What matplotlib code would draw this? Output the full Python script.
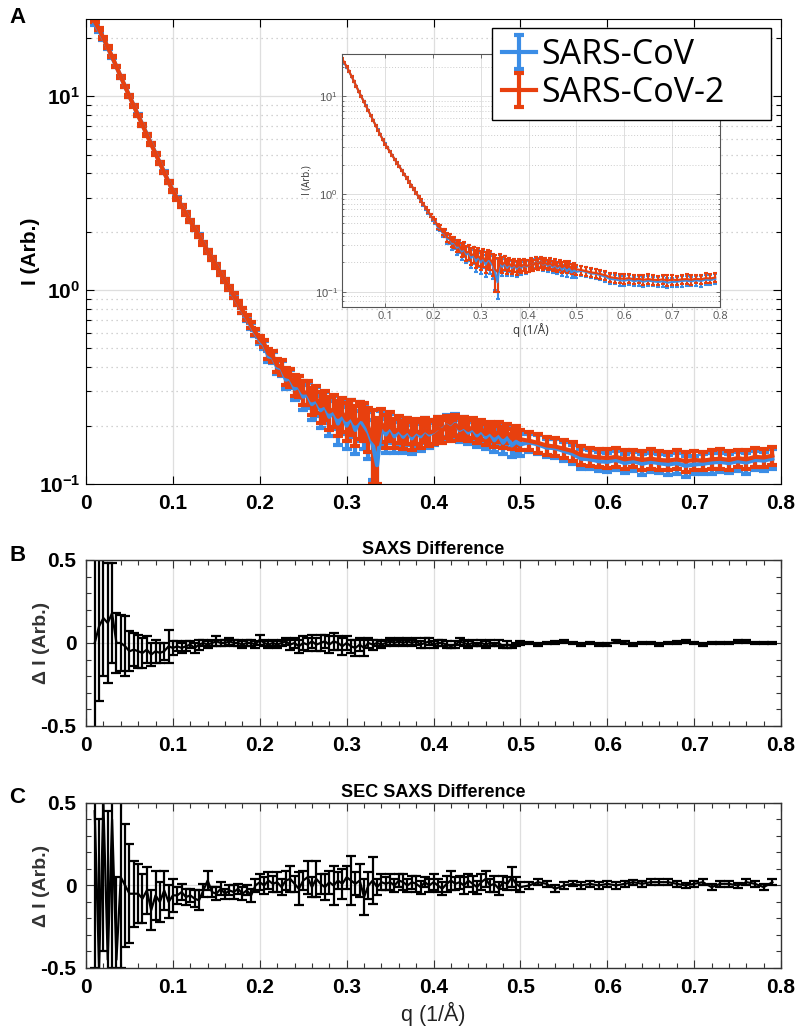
import numpy as np
import matplotlib
matplotlib.use('Agg')
import matplotlib.pyplot as plt
from matplotlib.ticker import FixedLocator, MultipleLocator, LogLocator, NullFormatter

plt.rcParams['font.family'] = ['Liberation Sans', 'DejaVu Sans']
plt.rcParams['mathtext.fontset'] = 'custom'
plt.rcParams['mathtext.rm'] = 'Liberation Sans'
plt.rcParams['mathtext.bf'] = 'Liberation Sans:bold'

# scattering vector q (1/A)
q = [0.010, 0.015, 0.020, 0.025, 0.030, 0.035, 0.040, 0.045, 0.050, 0.055,
     0.060, 0.065, 0.070, 0.075, 0.080, 0.085, 0.090, 0.095, 0.100, 0.105,
     0.110, 0.115, 0.120, 0.125, 0.130, 0.135, 0.140, 0.145, 0.150, 0.155,
     0.160, 0.165, 0.170, 0.175, 0.180, 0.185, 0.190, 0.195, 0.200, 0.205,
     0.210, 0.215, 0.220, 0.225, 0.230, 0.235, 0.240, 0.245, 0.250, 0.255,
     0.260, 0.265, 0.270, 0.275, 0.280, 0.285, 0.290, 0.295, 0.300, 0.305,
     0.310, 0.315, 0.320, 0.325, 0.330, 0.335, 0.340, 0.345, 0.350, 0.355,
     0.360, 0.365, 0.370, 0.375, 0.380, 0.385, 0.390, 0.395, 0.400, 0.405,
     0.410, 0.415, 0.420, 0.425, 0.430, 0.435, 0.440, 0.445, 0.450, 0.455,
     0.460, 0.465, 0.470, 0.475, 0.480, 0.485, 0.490, 0.495, 0.500,
     0.51, 0.52, 0.53, 0.54, 0.55, 0.56, 0.57, 0.58, 0.59, 0.60,
     0.61, 0.62, 0.63, 0.64, 0.65, 0.66, 0.67, 0.68, 0.69, 0.70,
     0.71, 0.72, 0.73, 0.74, 0.75, 0.76, 0.77, 0.78, 0.79]

# SARS-CoV intensity
i_cov = [23.6, 21.8, 19.8, 17.8, 15.9, 14.2, 12.6, 11.2, 10.0, 8.95,
         7.97, 7.12, 6.35, 5.66, 5.06, 4.53, 4.05, 3.62, 3.25, 2.97,
         2.72, 2.49, 2.27, 2.08, 1.91, 1.75, 1.59, 1.46, 1.34, 1.22,
         1.12, 1.02, 0.935, 0.855, 0.783, 0.715, 0.652, 0.598, 0.550, 0.520,
         0.455, 0.450, 0.400, 0.395, 0.345, 0.350, 0.310, 0.318, 0.282, 0.290,
         0.258, 0.270, 0.240, 0.252, 0.222, 0.238, 0.205, 0.228, 0.200, 0.222,
         0.190, 0.215, 0.200, 0.185, 0.160, 0.125, 0.198, 0.180, 0.196, 0.176,
         0.190, 0.175, 0.188, 0.172, 0.186, 0.176, 0.190, 0.180, 0.186, 0.194,
         0.190, 0.200, 0.194, 0.204, 0.190, 0.196, 0.184, 0.193, 0.178, 0.188,
         0.174, 0.183, 0.168, 0.180, 0.163, 0.175, 0.158, 0.165, 0.160,
         0.164, 0.160, 0.154, 0.153, 0.148, 0.143, 0.135, 0.134, 0.131, 0.130,
         0.133, 0.128, 0.131, 0.127, 0.130, 0.128, 0.126, 0.128, 0.124, 0.126,
         0.127, 0.129, 0.130, 0.128, 0.131, 0.129, 0.133, 0.132, 0.135]
e_cov = [0.30, 0.26, 0.22, 0.19, 0.16, 0.14, 0.12, 0.11, 0.10, 0.09,
         0.08, 0.07, 0.065, 0.06, 0.055, 0.05, 0.045, 0.042, 0.040, 0.038,
         0.036, 0.034, 0.033, 0.032, 0.031, 0.030, 0.029, 0.028, 0.027, 0.026,
         0.025, 0.024, 0.023, 0.022, 0.022, 0.022, 0.021, 0.021, 0.022, 0.025,
         0.029, 0.031, 0.033, 0.035, 0.037, 0.039, 0.040, 0.041, 0.042, 0.043,
         0.044, 0.045, 0.045, 0.046, 0.046, 0.047, 0.047, 0.047, 0.048, 0.048,
         0.048, 0.049, 0.049, 0.050, 0.055, 0.040, 0.040, 0.036, 0.034, 0.032,
         0.031, 0.030, 0.030, 0.029, 0.029, 0.028, 0.028, 0.027, 0.027, 0.027,
         0.026, 0.026, 0.026, 0.025, 0.025, 0.025, 0.024, 0.024, 0.023, 0.023,
         0.023, 0.022, 0.022, 0.022, 0.021, 0.021, 0.021, 0.020, 0.020,
         0.018, 0.018, 0.017, 0.017, 0.016, 0.016, 0.016, 0.015, 0.015, 0.015,
         0.015, 0.014, 0.015, 0.016, 0.015, 0.014, 0.015, 0.016, 0.015, 0.014,
         0.015, 0.016, 0.015, 0.014, 0.015, 0.016, 0.015, 0.015, 0.016]

# SARS-CoV-2 intensity
i_cov2 = [24.3, 22.1, 20.0, 17.9, 16.0, 14.2, 12.6, 11.2, 10.0, 8.91,
          7.94, 7.10, 6.32, 5.65, 5.05, 4.51, 4.04, 3.61, 3.24, 2.96,
          2.71, 2.48, 2.27, 2.08, 1.90, 1.74, 1.59, 1.46, 1.33, 1.22,
          1.12, 1.02, 0.938, 0.859, 0.787, 0.721, 0.661, 0.607, 0.560, 0.530,
          0.470, 0.455, 0.410, 0.400, 0.360, 0.355, 0.325, 0.322, 0.296, 0.297,
          0.270, 0.276, 0.252, 0.258, 0.236, 0.243, 0.222, 0.232, 0.214, 0.225,
          0.205, 0.218, 0.214, 0.196, 0.170, 0.160, 0.205, 0.190, 0.200, 0.185,
          0.193, 0.182, 0.190, 0.179, 0.188, 0.182, 0.191, 0.184, 0.187, 0.195,
          0.188, 0.199, 0.192, 0.202, 0.193, 0.198, 0.190, 0.196, 0.185, 0.192,
          0.181, 0.188, 0.178, 0.186, 0.175, 0.184, 0.172, 0.178, 0.170,
          0.167, 0.163, 0.158, 0.156, 0.152, 0.148, 0.141, 0.139, 0.137, 0.136,
          0.138, 0.134, 0.136, 0.133, 0.135, 0.133, 0.132, 0.134, 0.131, 0.133,
          0.132, 0.134, 0.135, 0.133, 0.136, 0.134, 0.138, 0.137, 0.140]
e_cov2 = [0.30, 0.26, 0.22, 0.19, 0.16, 0.14, 0.12, 0.11, 0.10, 0.09,
          0.08, 0.07, 0.065, 0.06, 0.055, 0.05, 0.045, 0.042, 0.040, 0.038,
          0.036, 0.034, 0.033, 0.032, 0.031, 0.030, 0.029, 0.028, 0.027, 0.026,
          0.025, 0.024, 0.023, 0.022, 0.021, 0.021, 0.020, 0.020, 0.021, 0.024,
          0.028, 0.030, 0.032, 0.034, 0.036, 0.038, 0.040, 0.040, 0.042, 0.042,
          0.044, 0.044, 0.045, 0.045, 0.046, 0.046, 0.046, 0.047, 0.047, 0.047,
          0.048, 0.048, 0.048, 0.050, 0.070, 0.060, 0.040, 0.036, 0.034, 0.032,
          0.030, 0.030, 0.029, 0.029, 0.028, 0.028, 0.027, 0.027, 0.027, 0.026,
          0.026, 0.026, 0.025, 0.025, 0.025, 0.024, 0.024, 0.024, 0.023, 0.023,
          0.023, 0.022, 0.022, 0.022, 0.021, 0.021, 0.021, 0.020, 0.020,
          0.018, 0.018, 0.017, 0.017, 0.016, 0.016, 0.016, 0.015, 0.015, 0.015,
          0.015, 0.015, 0.014, 0.015, 0.016, 0.015, 0.014, 0.015, 0.016, 0.015,
          0.014, 0.015, 0.016, 0.015, 0.014, 0.015, 0.016, 0.015, 0.015]

# SAXS difference
d_saxs = [0.00, 0.10, 0.15, 0.12, 0.18, 0.00, 0.00, -0.02, -0.05, -0.04,
          -0.05, -0.06, -0.04, -0.07, -0.05, -0.06, -0.05, -0.02, -0.03, -0.02,
          -0.03, -0.02, -0.01, -0.03, -0.01, 0.00, -0.01, 0.00, 0.01, 0.00,
          0.00, 0.01, 0.00, 0.00, -0.01, 0.00, 0.00, -0.01, 0.02, 0.00,
          -0.01, 0.00, -0.01, 0.00, 0.01, -0.01, 0.00, -0.02, 0.00, -0.01,
          0.01, -0.01, 0.00, 0.01, -0.01, 0.01, 0.00, -0.02, 0.00, -0.02,
          -0.03, -0.01, -0.03, 0.00, -0.01, 0.00, -0.01, 0.00, 0.01, 0.00,
          0.01, 0.00, 0.01, 0.00, 0.01, -0.01, 0.00, 0.01, -0.01, 0.00,
          0.00, -0.01, -0.02, -0.01, 0.01, 0.00, -0.01, 0.00, -0.01, 0.00,
          -0.01, 0.00, -0.01, 0.00, -0.02, -0.01, -0.02, -0.01, 0.00,
          0.00, -0.01, 0.00, 0.00, 0.01, 0.00, -0.01, 0.00, -0.01, -0.01,
          0.01, 0.00, -0.01, 0.00, 0.00, -0.01, 0.00, 0.00, 0.01, 0.00,
          -0.01, 0.00, 0.00, 0.00, 0.01, 0.01, 0.00, 0.00, 0.00]
e_saxs = [0.60, 0.45, 0.35, 0.36, 0.30, 0.18, 0.17, 0.18, 0.12, 0.10,
          0.10, 0.09, 0.08, 0.07, 0.07, 0.06, 0.05, 0.10, 0.04, 0.03,
          0.03, 0.03, 0.02, 0.03, 0.03, 0.02, 0.02, 0.02, 0.03, 0.02,
          0.02, 0.02, 0.02, 0.02, 0.02, 0.02, 0.02, 0.02, 0.03, 0.02,
          0.02, 0.02, 0.02, 0.02, 0.02, 0.03, 0.03, 0.04, 0.04, 0.04,
          0.04, 0.04, 0.05, 0.04, 0.05, 0.05, 0.04, 0.05, 0.04, 0.04,
          0.05, 0.04, 0.05, 0.03, 0.03, 0.02, 0.02, 0.02, 0.02, 0.02,
          0.02, 0.02, 0.02, 0.02, 0.02, 0.02, 0.03, 0.02, 0.02, 0.02,
          0.02, 0.02, 0.01, 0.02, 0.02, 0.02, 0.02, 0.02, 0.01, 0.02,
          0.02, 0.02, 0.01, 0.02, 0.01, 0.02, 0.01, 0.01, 0.01,
          0.008, 0.007, 0.008, 0.009, 0.008, 0.007, 0.008, 0.008, 0.007, 0.008,
          0.008, 0.009, 0.007, 0.008, 0.008, 0.007, 0.008, 0.009, 0.008, 0.007,
          0.008, 0.007, 0.008, 0.008, 0.009, 0.008, 0.007, 0.008, 0.008]

# SEC SAXS difference
d_sec = [0.45, -0.50, 0.50, -0.45, 0.40, -0.45, 0.05, 0.00, -0.05, -0.05,
         -0.05, -0.08, -0.03, -0.15, -0.06, -0.10, -0.03, -0.10, -0.06, -0.06,
         -0.04, -0.07, -0.06, -0.08, -0.09, -0.03, 0.03, -0.04, -0.05, -0.02,
         -0.05, -0.03, -0.04, -0.02, -0.05, -0.03, -0.06, 0.00, 0.02, 0.00,
         0.03, 0.01, 0.02, -0.01, 0.03, 0.04, 0.01, -0.02, 0.03, 0.05,
         -0.01, 0.04, 0.01, -0.01, 0.02, 0.00, 0.03, 0.01, 0.05, 0.03,
         0.01, 0.03, -0.07, 0.00, 0.03, -0.01, 0.02, 0.01, 0.02, 0.00,
         0.03, 0.02, 0.00, 0.02, 0.01, -0.01, 0.02, 0.00, 0.02, 0.00,
         -0.02, 0.01, 0.03, 0.01, 0.02, 0.00, 0.03, 0.01, -0.01, 0.02,
         0.04, 0.00, 0.01, -0.02, 0.02, 0.01, 0.05, 0.01, -0.01,
         0.00, 0.02, 0.01, -0.02, 0.00, 0.01, 0.00, 0.01, 0.00, 0.01,
         0.00, 0.01, 0.02, 0.01, 0.02, 0.02, 0.02, 0.01, 0.00, 0.01,
         0.02, -0.01, 0.01, 0.01, 0.00, 0.02, 0.01, -0.01, 0.02]
e_sec = [0.95, 0.90, 0.90, 0.90, 0.90, 0.50, 0.55, 0.37, 0.30, 0.20,
         0.18, 0.15, 0.14, 0.12, 0.15, 0.12, 0.12, 0.10, 0.10, 0.05,
         0.05, 0.05, 0.04, 0.05, 0.06, 0.04, 0.06, 0.03, 0.04, 0.04,
         0.03, 0.03, 0.04, 0.03, 0.04, 0.03, 0.04, 0.04, 0.05, 0.05,
         0.05, 0.05, 0.06, 0.05, 0.06, 0.08, 0.05, 0.10, 0.06, 0.10,
         0.06, 0.11, 0.06, 0.08, 0.07, 0.12, 0.05, 0.09, 0.07, 0.15,
         0.07, 0.10, 0.11, 0.08, 0.14, 0.05, 0.05, 0.04, 0.05, 0.04,
         0.04, 0.05, 0.04, 0.04, 0.05, 0.04, 0.03, 0.04, 0.05, 0.04,
         0.04, 0.05, 0.06, 0.04, 0.04, 0.05, 0.04, 0.05, 0.04, 0.05,
         0.05, 0.04, 0.05, 0.04, 0.04, 0.04, 0.06, 0.04, 0.03,
         0.02, 0.02, 0.02, 0.02, 0.02, 0.015, 0.02, 0.02, 0.02, 0.02,
         0.02, 0.02, 0.015, 0.02, 0.02, 0.02, 0.02, 0.02, 0.015, 0.02,
         0.02, 0.02, 0.02, 0.02, 0.015, 0.02, 0.02, 0.02, 0.02]

q_ticks = [0, 0.1, 0.2, 0.3, 0.4, 0.5, 0.6, 0.7, 0.8]
q_labels = ['0', '0.1', '0.2', '0.3', '0.4', '0.5', '0.6', '0.7', '0.8']

BLUE = '#3b8de6'
RED = '#e8400e'
GRIDC = '#dedede'

fig = plt.figure(figsize=(7.98, 10.28), dpi=100)

# ---------------- panel A ----------------
axA = fig.add_axes([0.1078, 0.5292, 0.871, 0.4523])
hb = axA.errorbar(q, i_cov, yerr=e_cov, color=BLUE, lw=3, elinewidth=3,
                  capsize=3.5, capthick=3, label='SARS-CoV')
hr = axA.errorbar(q, i_cov2, yerr=e_cov2, color=RED, lw=3, elinewidth=3,
                  capsize=3.5, capthick=3, label='SARS-CoV-2')
axA.set_yscale('log')
axA.set_xlim(0, 0.8)
axA.set_ylim(0.1, 25)
axA.set_xticks(q_ticks)
axA.set_xticklabels(q_labels, fontweight='bold')
axA.yaxis.set_major_locator(FixedLocator([0.1, 1, 10]))
axA.set_yticklabels([r'$\mathbf{10^{-1}}$', r'$\mathbf{10^{0}}$', r'$\mathbf{10^{1}}$'])
axA.yaxis.set_minor_locator(LogLocator(base=10, subs=np.arange(2, 10)))
axA.yaxis.set_minor_formatter(NullFormatter())
axA.set_axisbelow(True)
axA.grid(which='major', color=GRIDC, lw=0.9, ls='-')
axA.grid(which='minor', axis='y', color='#c4c4c4', lw=0.9, ls=(0, (1, 3)))
axA.tick_params(which='both', direction='in', top=True, right=True, labelsize=15, width=0.8)
axA.tick_params(which='major', length=6, pad=7)
axA.tick_params(axis='y', which='major', pad=4)
axA.tick_params(which='minor', length=3.5)
axA.set_ylabel('I (Arb.)', fontsize=15, fontweight='bold')
axA.yaxis.set_label_coords(-0.066, 0.5)

# inset
axI = fig.add_axes([0.4286, 0.7014, 0.4737, 0.246])
axI.errorbar(q, i_cov, yerr=e_cov, color=BLUE, lw=1.5, elinewidth=1.5, capsize=1.7, capthick=1.5)
axI.errorbar(q, i_cov2, yerr=e_cov2, color=RED, lw=1.5, elinewidth=1.5, capsize=1.7, capthick=1.5)
axI.set_yscale('log')
axI.set_xlim(0.01, 0.8)
axI.set_ylim(0.07, 27)
axI.set_xticks(q_ticks[1:])
axI.set_xticklabels(q_labels[1:], family=['Open Sans', 'DejaVu Sans'])
axI.yaxis.set_major_locator(FixedLocator([0.1, 1, 10]))
axI.set_yticklabels([r'$10^{-1}$', r'$10^{0}$', r'$10^{1}$'])
axI.yaxis.set_minor_locator(LogLocator(base=10, subs=np.arange(2, 10)))
axI.yaxis.set_minor_formatter(NullFormatter())
axI.set_axisbelow(True)
axI.grid(which='major', color=GRIDC, lw=0.7, ls='-')
axI.grid(which='minor', axis='y', color='#cccccc', lw=0.7, ls=(0, (1, 2)))
axI.tick_params(which='both', direction='in', top=True, right=True, labelsize=8,
                colors='#555555', width=0.6)
axI.tick_params(which='major', length=3, pad=3)
axI.tick_params(which='minor', length=1.5)
for s in axI.spines.values():
    s.set_color('#555555')
    s.set_linewidth(0.8)
axI.set_xlabel('q (1/Å)', fontsize=8.5, color='#333333', labelpad=1,
               family=['Open Sans', 'DejaVu Sans'])
axI.set_ylabel('I (Arb.)', fontsize=7, color='#333333', labelpad=2,
               family=['Open Sans', 'DejaVu Sans'])

leg = fig.legend(handles=[hb, hr], loc='upper left',
                 bbox_to_anchor=(0.6165, 0.8813, 0.3495, 0.0915), mode='expand',
                 bbox_transform=fig.transFigure, handlelength=1.0,
                 handletextpad=0.15, borderpad=0.3, labelspacing=0.12, borderaxespad=0,
                 fancybox=False, framealpha=1, edgecolor='black',
                 prop={'family': ['Open Sans', 'DejaVu Sans'], 'size': 24.5})
leg.get_frame().set_linewidth(1.0)


# ---------------- panels B and C ----------------
def diff_panel(rect, d, e, title):
    ax = fig.add_axes(rect)
    ax.errorbar(q, d, yerr=e, color='black', lw=1.6, elinewidth=1.6,
                capsize=3.5, capthick=1.6)
    ax.set_xlim(0, 0.8)
    ax.set_ylim(-0.5, 0.5)
    ax.set_xticks(q_ticks)
    ax.set_xticklabels(q_labels, fontweight='bold')
    ax.set_yticks([-0.5, 0, 0.5])
    ax.set_yticklabels(['-0.5', '0', '0.5'], fontweight='bold')
    ax.xaxis.set_minor_locator(MultipleLocator(0.02))
    ax.yaxis.set_minor_locator(MultipleLocator(0.1))
    ax.set_axisbelow(True)
    ax.grid(which='major', axis='x', color=GRIDC, lw=0.9)
    ax.grid(which='major', axis='y', color=GRIDC, lw=0.9)
    ax.tick_params(which='both', direction='in', top=True, right=True,
                   labelsize=15, width=0.8, color='#333333')
    ax.tick_params(which='major', length=6, pad=7)
    ax.tick_params(which='minor', length=3.5)
    for s in ax.spines.values():
        s.set_color('#333333')
        s.set_linewidth(1.0)
    ax.set_title(title, fontsize=13, fontweight='bold', pad=4)
    ax.set_ylabel('Δ I (Arb.)', fontsize=14, fontweight='bold', color='#333333')
    ax.yaxis.set_label_coords(-0.052, 0.5)
    return ax


axB = diff_panel([0.1078, 0.2938, 0.871, 0.1615], d_saxs, e_saxs, 'SAXS Difference')
axC = diff_panel([0.1078, 0.0584, 0.871, 0.1605], d_sec, e_sec, 'SEC SAXS Difference')
axC.set_xlabel('q (1/Å)', fontsize=15.5, color='#222222', labelpad=4)

fig.text(0.012, 0.9825, 'A', fontsize=16, fontweight='bold', va='center', ha='left')
fig.text(0.012, 0.4601, 'B', fontsize=16, fontweight='bold', va='center', ha='left')
fig.text(0.012, 0.2247, 'C', fontsize=16, fontweight='bold', va='center', ha='left')

fig.savefig('out.png', dpi=100)
